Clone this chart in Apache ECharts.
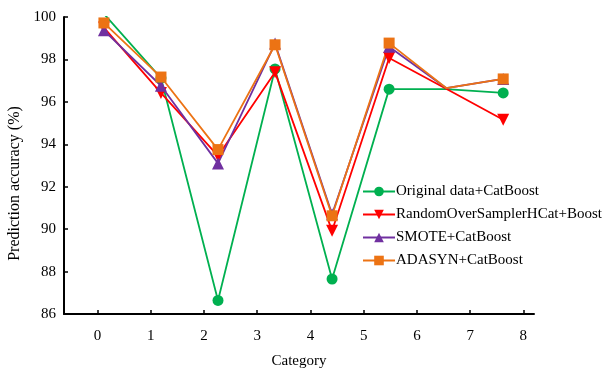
<!DOCTYPE html>
<html><head><meta charset="utf-8">
<script src="https://cdn.jsdelivr.net/npm/echarts@6/dist/echarts.min.js"></script>
<style>html,body{margin:0;padding:0;background:#fff}#c{width:608px;height:369px}</style>
</head><body><div id="c"></div>
<script>
const categories = [0, 1, 2, 3, 4, 5, 6, 7];
const xTicks = [0, 1, 2, 3, 4, 5, 6, 7, 8];
const yTicks = [86, 88, 90, 92, 94, 96, 98, 100];
const seriesNames = ['Original data+CatBoost', 'RandomOverSamplerHCat+Boost', 'SMOTE+CatBoost', 'ADASYN+CatBoost'];
const original = [100.15, 97.12, 86.64, 97.55, 87.65, 96.6, 96.6, 96.42];
const randomOver = [99.5, 96.42, 93.45, 97.4, 89.92, 98.07, 96.62, 95.16];
const smote = [99.37, 96.76, 93.1, 98.75, 90.7, 98.6, 96.65, 97.08];
const adasyn = [99.72, 97.17, 93.75, 98.69, 90.63, 98.77, 96.65, 97.08];
const hiddenMarkerIndex = 6;

const colors = ['#00B050', '#FF0000', '#7030A0', '#EC7314'];
const symbols = ['circle', 'triangle', 'triangle', 'rect'];
const rotates = [0, 180, 0, 0];
const sizes = [11, 12, 12, 11];
const allData = [original, randomOver, smote, adasyn];
const font = 'Liberation Serif';

const chart = echarts.init(document.getElementById('c'), null, {renderer: 'canvas'});
chart.setOption({
  animation: false,
  textStyle: {fontFamily: font},
  grid: {left: 64, right: 74, top: 17, bottom: 55, containLabel: false, outerBoundsMode: 'none'},
  legend: {
    orient: 'vertical', left: 357, top: 179,
    itemWidth: 32, itemHeight: 12, itemGap: 8,
    textStyle: {fontFamily: font, fontSize: 15, color: '#000', padding: [0, 0, 0, -4]},
    data: seriesNames
  },
  xAxis: [{
    type: 'value', min: -0.63, max: 8.2,
    name: 'Category', nameLocation: 'middle', nameGap: 40,
    nameTextStyle: {fontFamily: font, fontSize: 15, color: '#000'},
    axisLine: {show: true, onZero: false, lineStyle: {color: '#000', width: 2}},
    axisTick: {show: true, inside: true, length: 4, customValues: xTicks, lineStyle: {color: '#000', width: 1.5}},
    axisLabel: {customValues: xTicks, margin: 15, fontFamily: font, fontSize: 15, color: '#000'},
    splitLine: {show: false}
  }, {
    type: 'value', min: -0.70, max: 7.54, show: false,
    splitLine: {show: false}
  }],
  yAxis: {
    type: 'value', min: 86, max: 100, interval: 2,
    name: 'Prediction accuracy (%)', nameLocation: 'middle', nameGap: 37,
    nameTextStyle: {fontFamily: font, fontSize: 16, color: '#000', padding: [0, 36, 0, 0]},
    axisLine: {show: true, onZero: false, lineStyle: {color: '#000', width: 2}},
    axisTick: {show: true, inside: true, length: 4, lineStyle: {color: '#000', width: 1.5}},
    axisLabel: {margin: 8, fontFamily: font, fontSize: 15, color: '#000',
      formatter: v => yTicks.includes(v) ? String(v) : ''},
    splitLine: {show: false}
  },
  series: seriesNames.map((name, s) => ({
    name, type: 'line', xAxisIndex: 1,
    symbol: symbols[s], symbolRotate: rotates[s], symbolSize: sizes[s],
    showAllSymbol: true,
    itemStyle: {color: colors[s]},
    lineStyle: {color: colors[s], width: 1.8},
    data: categories.map((c, i) => i === hiddenMarkerIndex
      ? {value: [c, allData[s][i]], symbol: 'none'}
      : [c, allData[s][i]])
  }))
});
</script></body></html>
